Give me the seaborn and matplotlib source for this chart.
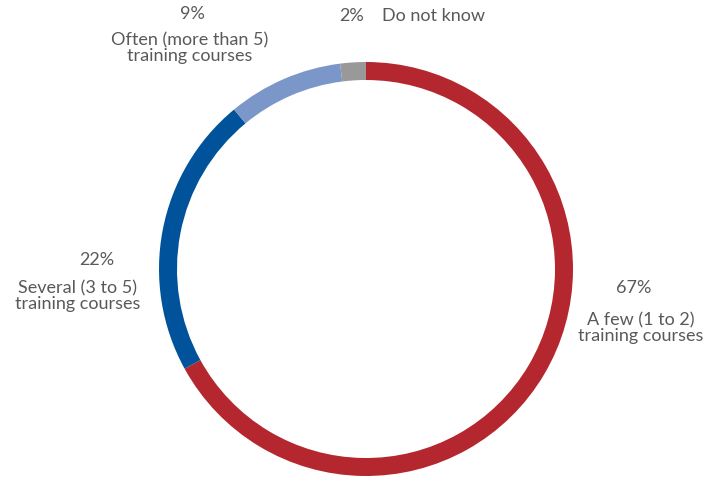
import matplotlib
matplotlib.use("Agg")
import matplotlib.pyplot as plt
import seaborn as sns

# Share of respondents by number of training courses attended
categories = ["A few (1 to 2)\ntraining courses",
              "Several (3 to 5)\ntraining courses",
              "Often (more than 5)\ntraining courses",
              "Do not know"]
shares = [67, 22, 9, 2]
pct_labels = ["67%", "22%", "9%", "2%"]
colors = ["#B5272F", "#00539B", "#7B96C8", "#999999"]

sns.set_theme(style="white")
plt.rcParams["font.family"] = ["Lato", "DejaVu Sans"]

W, H = 705, 480
fig = plt.figure(figsize=(W / 100, H / 100), dpi=100)
ax = fig.add_axes([0, 0, 1, 1])

ax.pie(shares, colors=sns.color_palette(colors), startangle=90, counterclock=False,
       center=(366, H - 269), radius=207,
       wedgeprops=dict(width=18, linewidth=0))
ax.set_xlim(0, W)
ax.set_ylim(0, H)
ax.set_aspect("equal")
ax.axis("off")

txt = dict(color="#595959", fontsize=13, ha="center", va="center")

# percentage labels and category labels (pixel coordinates, y from top)
pct_pos = [(634, 288), (97, 260), (192, 14), (352, 16)]
cat_pos = [(641, 328), (78, 296), (190, 48), (433, 16)]
for i, (p, c) in enumerate(zip(pct_pos, cat_pos)):
    ax.text(p[0], H - p[1], pct_labels[i], **txt)
    ax.text(c[0], H - c[1], categories[i], linespacing=1.0, **txt)

fig.savefig("out.png", dpi=100, facecolor="white")
